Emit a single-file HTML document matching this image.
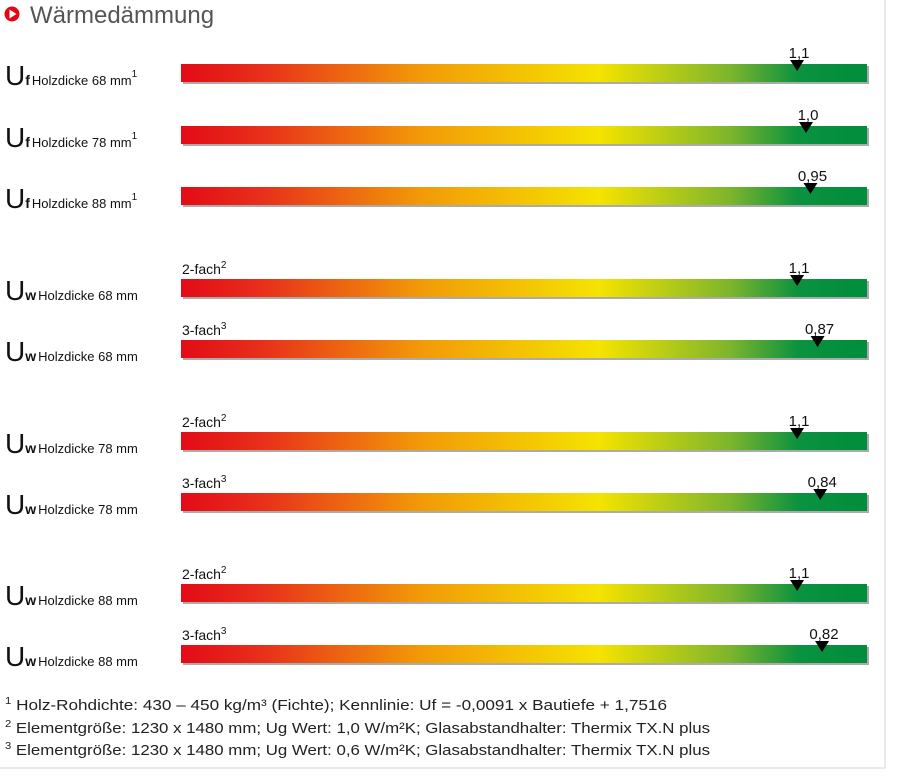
<!DOCTYPE html>
<html><head><meta charset="utf-8"><style>
html,body{margin:0;padding:0;background:#fff;}
svg{display:block;font-family:"Liberation Sans",sans-serif;}
</style></head><body>
<svg id="chart" width="902" height="781" viewBox="0 0 902 781">
<defs>
<linearGradient id="grad" x1="0" x2="1" y1="0" y2="0">
<stop offset="0" stop-color="#e30b17"/>
<stop offset="0.12" stop-color="#e8301a"/>
<stop offset="0.35" stop-color="#f29a08"/>
<stop offset="0.61" stop-color="#f5e300"/>
<stop offset="0.8" stop-color="#7db52c"/>
<stop offset="0.9" stop-color="#0a923f"/>
<stop offset="1" stop-color="#008d3c"/>
</linearGradient>
</defs>
<line x1="885" y1="0" x2="885" y2="768" stroke="#e4e4e4" stroke-width="1.5"/>
<line x1="0" y1="768" x2="885" y2="768" stroke="#e4e4e4" stroke-width="1.5"/>
<g>
<circle cx="12" cy="14" r="7.5" fill="#e30613"/>
<polygon points="9.5,9.5 9.5,18.5 16.5,14" fill="#fff"/>
<text x="30" y="23" font-size="24" fill="#555">Wärmedämmung</text>
</g>
<g id="rows"></g>
<g font-size="15" fill="#222">
<text x="5" y="710" textLength="662" lengthAdjust="spacingAndGlyphs"><tspan font-size="10" dy="-6">1</tspan><tspan dy="6"> Holz-Rohdichte: 430 – 450 kg/m³ (Fichte); Kennlinie: Uf = -0,0091 x Bautiefe + 1,7516</tspan></text>
<text x="5" y="733" textLength="705" lengthAdjust="spacingAndGlyphs"><tspan font-size="10" dy="-6">2</tspan><tspan dy="6"> Elementgröße: 1230 x 1480 mm; Ug Wert: 1,0 W/m²K; Glasabstandhalter: Thermix TX.N plus</tspan></text>
<text x="5" y="755" textLength="705" lengthAdjust="spacingAndGlyphs"><tspan font-size="10" dy="-6">3</tspan><tspan dy="6"> Elementgröße: 1230 x 1480 mm; Ug Wert: 0,6 W/m²K; Glasabstandhalter: Thermix TX.N plus</tspan></text>
</g>
</svg>
<script>
const values = [1.1, 1.0, 0.95, 1.1, 0.87, 1.1, 0.84, 1.1, 0.82];
const valueLabels = ["1,1", "1,0", "0,95", "1,1", "0,87", "1,1", "0,84", "1,1", "0,82"];
const subs = ["f", "f", "f", "w", "w", "w", "w", "w", "w"];
const thickness = ["68", "78", "88", "68", "68", "78", "78", "88", "88"];
const glazing = ["", "", "", "2-fach", "3-fach", "2-fach", "3-fach", "2-fach", "3-fach"];
const barTops = [64, 126, 187, 279, 340, 432, 493, 584, 645];
const NS = "http://www.w3.org/2000/svg";
const X0 = 181, X1 = 867;
function xScale(v) { return 895 - 89 * v; }
const g = document.getElementById("rows");
function mk(tag, attrs, parent) {
  const e = document.createElementNS(NS, tag);
  for (const k in attrs) e.setAttribute(k, attrs[k]);
  parent.appendChild(e);
  return e;
}
values.forEach((v, i) => {
  const y = barTops[i];
  const row = mk("g", {}, g);
  
  
  const lab = mk("text", {x: 5, y: y + 21, fill: "#111"}, row);
  
  
  const u = mk("tspan", {"font-size": 28}, lab); u.textContent = "U";
  const s = mk("tspan", {"font-size": 14, "font-weight": "bold", dx: 0}, lab); s.textContent = subs[i];
  const t = mk("tspan", {"font-size": 13, dx: 2}, lab); t.textContent = "Holzdicke " + thickness[i] + " mm";
  if (subs[i] === "f") { const sp = mk("tspan", {"font-size": 10, dy: -8}, lab); sp.textContent = "1"; }
  if (glazing[i]) {
    const gl = mk("text", {x: 182, y: y - 5, "font-size": 14, fill: "#111"}, row);
    
    
    const a = mk("tspan", {}, gl); a.textContent = glazing[i];
    const b = mk("tspan", {"font-size": 10, dy: -6}, gl); b.textContent = glazing[i][0];
  }
  const sh = mk("rect", {x: X0 + 2, y: y + 2, width: X1 - X0, height: 18, fill: "#888", opacity: 0.7}, row);
  
  
  const bar = mk("rect", {x: X0, y: y, width: X1 - X0, height: 18, fill: "url(#grad)"}, row);
  
  
  const cx = xScale(v);
  const tri = mk("polygon", {points: (cx - 7) + "," + (y - 4) + " " + (cx + 7) + "," + (y - 4) + " " + cx + "," + (y + 7), fill: "#000"}, row);
  
  
  const vl = mk("text", {x: cx + 2, y: y - 6, "font-size": 15, "text-anchor": "middle", fill: "#111"}, row);
  
  
  vl.textContent = valueLabels[i];
});
</script>
</body></html>
